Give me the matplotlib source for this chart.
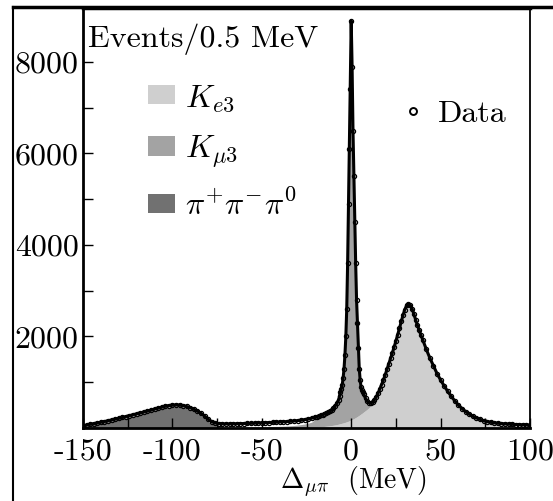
import numpy as np
import matplotlib
matplotlib.use("Agg")
import matplotlib.pyplot as plt
from matplotlib.patches import Patch
from matplotlib.lines import Line2D

plt.rcParams['font.family'] = 'serif'
plt.rcParams['font.serif'] = ['cmr10', 'DejaVu Serif']
plt.rcParams['mathtext.fontset'] = 'cm'
plt.rcParams['axes.unicode_minus'] = False

# ---- sample positions (MeV) ----
x = np.concatenate([
    np.arange(-150, -21, 2),      # 65 pts
    np.arange(-20, -6, 1),        # 14 pts
    np.arange(-6.5, 6.51, 0.5),   # 27 pts
    np.arange(7, 40.5, 1),        # 34 pts
    np.arange(42, 100.5, 2),      # 30 pts
])

# ---- data (events / bin) ----
data = [
    # -150 .. -22 step 2
    50, 65, 80, 95, 110, 125, 140, 160, 175, 195, 210, 230, 250, 270, 290, 310,
    330, 350, 370, 390, 415, 435, 455, 475, 490, 500, 505, 500, 490, 470, 445,
    410, 370, 320, 260, 190, 140, 110, 95, 90, 88, 88, 90, 92, 95, 97, 100, 102,
    105, 108, 112, 115, 118, 122, 126, 130, 135, 140, 146, 152, 160, 170, 182,
    198, 215,
    # -20 .. -7 step 1
    240, 250, 262, 275, 290, 305, 320, 340, 365, 395, 430, 480, 540, 620,
    # -6.5 .. 6.5 step 0.5
    700, 780, 860, 950, 1100, 1300, 1600, 2000, 2600, 3600, 4900, 6100, 7400,
    8900, 7900, 6500, 5500, 4500, 3600, 2800, 2300, 1750, 1300, 1050, 900, 820, 780,
    # 7 .. 40 step 1
    740, 650, 585, 555, 550, 570, 620, 680, 760, 850, 950, 1050, 1160, 1280,
    1400, 1520, 1640, 1770, 1900, 2040, 2180, 2330, 2470, 2590, 2680, 2710,
    2690, 2610, 2500, 2370, 2250, 2140, 2030, 1930,
    # 42 .. 100 step 2
    1720, 1530, 1360, 1190, 1050, 920, 800, 690, 590, 500, 425, 360, 305, 258,
    220, 190, 162, 140, 125, 113, 104, 96, 90, 85, 80, 76, 72, 69, 66, 63,
]

# ---- pi+ pi- pi0 component ----
ppp = [
    35, 49, 63, 77, 91, 105, 119, 138, 152, 171, 185, 204, 223, 242, 261, 280,
    299, 318, 337, 356, 380, 399, 418, 437, 451, 460, 464, 458, 447, 426, 400,
    364, 323, 272, 211, 140, 100, 60, 25, 5, 0, 0, 0, 0, 0, 0, 0, 0,
    0, 0, 0, 0, 0, 0, 0, 0, 0, 0, 0, 0, 0, 0, 0,
    0, 0,
    0, 0, 0, 0, 0, 0, 0, 0, 0, 0, 0, 0, 0, 0,
    0, 0, 0, 0, 0, 0, 0, 0, 0, 0, 0, 0, 0,
    0, 0, 0, 0, 0, 0, 0, 0, 0, 0, 0, 0, 0, 0,
    0, 0, 0, 0, 0, 0, 0, 0, 0, 0, 0, 0, 0, 0,
    0, 0, 0, 0, 0, 0, 0, 0, 0, 0, 0, 0,
    0, 0, 0, 0, 0, 0, 0, 0,
    0, 0, 0, 0, 0, 0, 0, 0, 0, 0, 0, 0, 0, 0,
    0, 0, 0, 0, 0, 0, 0, 0, 0, 0, 0, 0, 0, 0, 0, 0,
]

# ---- K_e3 component ----
ke3 = [
    0, 0, 0, 0, 0, 0, 0, 0, 0, 0, 0, 0, 0, 0, 0, 0,
    0, 0, 0, 0, 0, 0, 0, 0, 0, 0, 0, 0, 0, 0, 0,
    0, 0, 0, 0, 0, 0, 0, 0, 0, 0, 0, 0, 0, 0, 0, 0, 0,
    0, 0, 0, 0, 0, 0, 0, 0, 0, 0, 0, 0, 3, 5, 8,
    11, 15,
    18, 20, 23, 26, 30, 34, 38, 43, 48, 54, 60, 67, 75, 84,
    90, 95, 100, 105, 110, 116, 122, 128, 135, 142, 150, 158, 166,
    175, 185, 195, 205, 216, 228, 240, 252, 265, 278, 292, 306, 320, 335,
    350, 380, 410, 445, 480, 520, 570, 630, 700, 780, 920, 1025, 1138, 1260,
    1382, 1504, 1625, 1756, 1887, 2028, 2169, 2320, 2460, 2580, 2670, 2700,
    2680, 2600, 2490, 2360, 2240, 2130, 2020, 1920,
    1712, 1522, 1352, 1182, 1043, 913, 794, 684, 585, 495, 420, 356, 301, 255,
    217, 187, 159, 137, 122, 110, 101, 93, 87, 82, 77, 73, 69, 66, 63, 60,
]

# ---- K_mu3 component ----
kmu3 = [
    15, 16, 17, 18, 19, 20, 21, 22, 23, 24, 25, 26, 27, 28, 29, 30,
    31, 32, 33, 34, 35, 36, 37, 38, 39, 40, 41, 42, 43, 44, 45,
    46, 47, 48, 49, 50, 40, 30, 30, 25, 20, 20, 21, 22, 23, 24, 25, 26,
    27, 28, 29, 30, 32, 34, 36, 38, 41, 45, 50, 55, 62, 70, 80,
    95, 115,
    175, 188, 200, 214, 228, 246, 265, 287, 312, 336, 365, 408, 460, 531,
    610, 685, 760, 845, 990, 1184, 1478, 1872, 2465, 3458, 4750, 5942, 7234,
    8725, 7715, 6305, 5295, 4284, 3372, 2560, 2048, 1485, 1022, 758, 594, 500, 445,
    390, 270, 175, 110, 70, 50, 45, 40, 35, 30, 28, 25, 22, 20,
    18, 16, 15, 14, 13, 12, 11, 10, 10, 10, 10, 10,
    10, 10, 10, 10, 10, 10, 10, 10,
    8, 8, 8, 8, 7, 7, 6, 6, 5, 5, 5, 4, 4, 3,
    3, 3, 3, 3, 3, 3, 3, 3, 3, 3, 3, 3, 3, 3, 3, 3,
]

xticks = [-150, -100, -50, 0, 50, 100]
xticklabels = ['-150', '-100', '-50', '0', '50', '100']
yticks = [2000, 4000, 6000, 8000]
yticklabels = ['2000', '4000', '6000', '8000']

c_ke3 = '#cfcfcf'
c_kmu3 = '#a3a3a3'
c_ppp = '#717171'

fig = plt.figure(figsize=(5.53, 5.01), dpi=100)
ax = fig.add_axes([83/553, 73/501, 447/553, 420/501])

ppp_a = np.array(ppp, float)
ke3_a = np.array(ke3, float)
kmu3_a = np.array(kmu3, float)
lvl1 = ppp_a
lvl2 = lvl1 + ke3_a
lvl3 = lvl2 + kmu3_a
ax.fill_between(x, 0, lvl1, color=c_ppp, lw=0)
ax.fill_between(x, lvl1, lvl2, color=c_ke3, lw=0)
ax.fill_between(x, lvl2, lvl3, color=c_kmu3, lw=0)

ax.plot(x, data, color='black', lw=2.2, zorder=3)
ax.plot(x, data, linestyle='none', marker='o', ms=3.0, mfc='none',
        mec='black', mew=0.9, zorder=4)

ax.set_xlim(-150, 100)
ax.set_ylim(0, 9180)
ax.set_xticks(xticks)
ax.set_xticklabels(xticklabels)
ax.set_yticks(yticks)
ax.set_yticklabels(yticklabels)
ax.set_xticks([-125, -75, -25, 25, 75], minor=True)
ax.set_yticks([1000, 3000, 5000, 7000], minor=True)
ax.tick_params(which='both', direction='in', length=7, width=1.0,
               labelsize=23, top=False, right=False)
ax.tick_params(axis='x', pad=7)
ax.tick_params(axis='y', pad=3)
for s in ['left', 'bottom']:
    ax.spines[s].set_linewidth(2.0)
ax.spines['right'].set_linewidth(1.3)
ax.spines['top'].set_linewidth(2.5)

ax.set_xlabel(r'$\Delta_{\mu\pi}$  (MeV)', fontsize=20)
ax.xaxis.set_label_coords((353 - 83) / 447, -0.086)

ax.text(0.012, 0.962, 'Events/0.5 MeV', transform=ax.transAxes,
        fontsize=23, ha='left', va='top')

handles = [Patch(facecolor=c_ke3, edgecolor='none'),
           Patch(facecolor=c_kmu3, edgecolor='none'),
           Patch(facecolor=c_ppp, edgecolor='none')]
labels = [r'$K_{e3}$', r'$K_{\mu3}$', r'$\pi^{+}\pi^{-}\pi^{0}$']
leg1 = ax.legend(handles, labels, loc='upper left',
                 bbox_to_anchor=(0.11, 0.86), frameon=False, fontsize=23,
                 handlelength=0.85, handleheight=0.55, handletextpad=0.3,
                 labelspacing=0.62, borderpad=0)
ax.add_artist(leg1)
h_data = Line2D([], [], linestyle='none', marker='o', ms=5, mfc='none',
                mec='black', mew=1.4)
ax.legend([h_data], ['Data'], loc='upper left', bbox_to_anchor=(0.68, 0.82),
          frameon=False, fontsize=23, handlelength=0.6, handletextpad=0.5,
          borderpad=0)

# outer frame lines of the original page
fig.add_artist(Line2D([13/553, 1.0], [1 - 7/501, 1 - 7/501], color='black',
                      lw=2.5, transform=fig.transFigure))
fig.add_artist(Line2D([13/553, 13/553], [0, 1 - 7/501], color='black',
                      lw=1.5, transform=fig.transFigure))

fig.savefig('out.png', dpi=100)
